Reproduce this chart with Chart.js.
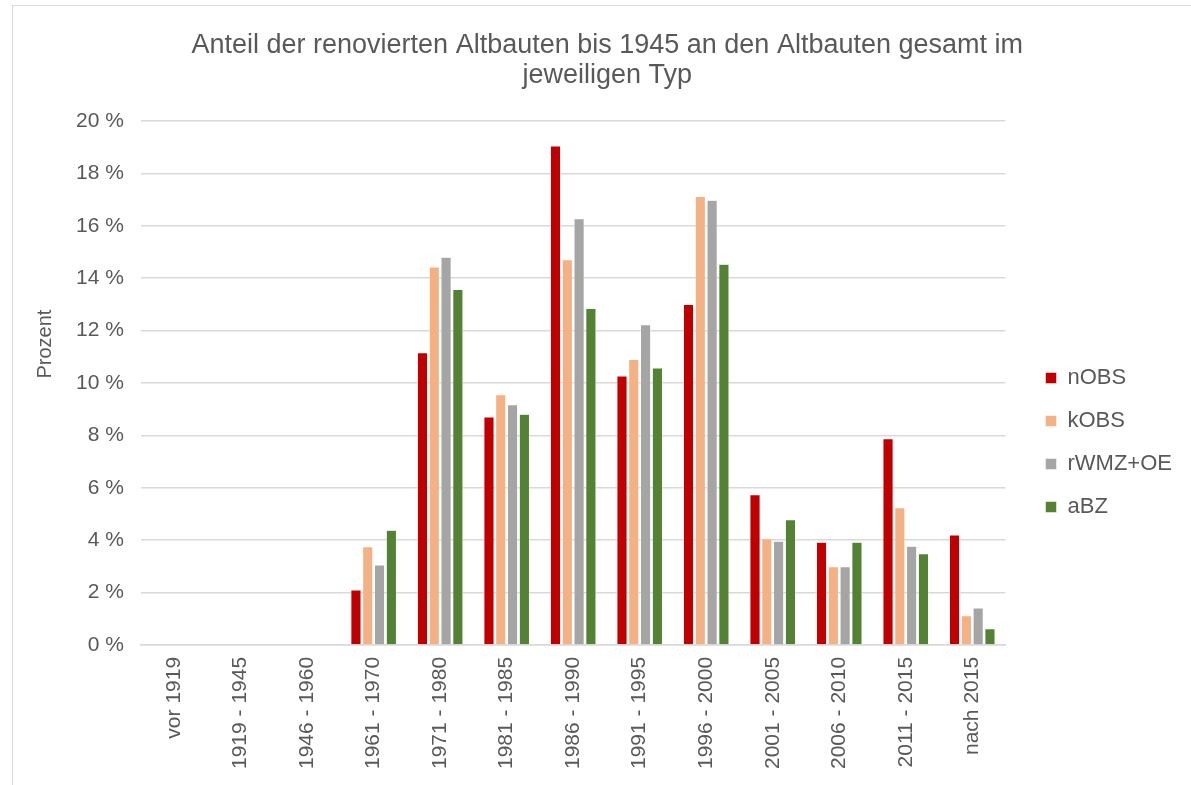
<!DOCTYPE html>
<html>
<head>
<meta charset="utf-8">
<script src="https://cdn.jsdelivr.net/npm/chart.js@4"></script>
<style>
  html, body { margin: 0; padding: 0; background: #fff; }
  .rahmen { position: absolute; left: 12px; top: 5px; width: 1200px; height: 800px; border: 1px solid #d9d9d9; box-sizing: border-box; }
  .chartBox { position: absolute; left: 0; top: 0; width: 1191px; height: 785px; }
</style>
</head>
<body>
<div class="rahmen"></div>
<div class="chartBox"><canvas class="chartAltbauten"></canvas></div>
<script>
const kategorien = ["vor 1919", "1919 - 1945", "1946 - 1960", "1961 - 1970", "1971 - 1980", "1981 - 1985", "1986 - 1990", "1991 - 1995", "1996 - 2000", "2001 - 2005", "2006 - 2010", "2011 - 2015", "nach 2015"];
const nOBS = [0, 0, 0, 2.1, 11.15, 8.7, 19.05, 10.27, 13.0, 5.73, 3.92, 7.87, 4.2];
const kOBS = [0, 0, 0, 3.75, 14.43, 9.55, 14.7, 10.9, 17.12, 4.05, 2.98, 5.24, 1.11];
const rWMZ_OE = [0, 0, 0, 3.05, 14.8, 9.17, 16.27, 12.22, 16.98, 3.96, 2.98, 3.77, 1.41];
const aBZ = [0, 0, 0, 4.38, 13.57, 8.81, 12.84, 10.57, 14.53, 4.78, 3.92, 3.48, 0.62];

const grau = "#595959";
const schrift = "'Liberation Sans', Arial, sans-serif";

const chartAltbauten = document.querySelector(".chartAltbauten");
var contextAltbauten = chartAltbauten.getContext("2d");

// Legende etwas vom Diagramm abruecken (wie im Original)
const legendeVerschieben = {
    id: "legendeVerschieben",
    afterLayout(chart) {
        chart.legend.left += 19;
        chart.legend.right += 19;
    }
};

function datensatz(label, farbe, werte) {
    return {
        label: label,
        backgroundColor: farbe,
        borderColor: "#ffffff",
        borderWidth: 0.5,
        data: werte,
        barPercentage: 0.86,
        categoryPercentage: 0.71
    };
}

var myChartAltbauten = new Chart(contextAltbauten, {
    type: "bar",
    data: {
        labels: kategorien,
        datasets: [
            datensatz("nOBS", "#c00000", nOBS),
            datensatz("kOBS", "#f4b183", kOBS),
            datensatz("rWMZ+OE", "#a5a5a5", rWMZ_OE),
            datensatz("aBZ", "#548235", aBZ)
        ]
    },
    plugins: [legendeVerschieben],
    options: {
        responsive: true,
        maintainAspectRatio: false,
        animation: false,
        layout: { padding: { left: 29, right: 28, top: 30, bottom: 12 } },
        plugins: {
            title: {
                display: true,
                text: ["   Anteil der renovierten Altbauten bis 1945 an den Altbauten gesamt im", "   jeweiligen Typ"],
                color: grau,
                font: { family: schrift, size: 27, weight: "normal", lineHeight: 1.13 },
                padding: { top: 0, bottom: 30 }
            },
            legend: {
                position: "right",
                title: {
                    display: true,
                    text: " ",
                    font: { size: 10 },
                    padding: { top: 70, bottom: 0 }
                },
                labels: {
                    color: grau,
                    font: { family: schrift, size: 22 },
                    boxWidth: 11,
                    boxHeight: 11,
                    padding: 21
                }
            },
            tooltip: { enabled: false }
        },
        scales: {
            x: {
                grid: { display: false },
                border: { color: "#d9d9d9", width: 1.5 },
                ticks: {
                    color: grau,
                    font: { family: schrift, size: 21 },
                    minRotation: 90,
                    maxRotation: 90,
                    padding: 4
                }
            },
            y: {
                min: 0,
                max: 20,
                border: { display: false },
                grid: { color: "#d9d9d9", lineWidth: 1.5, drawTicks: false },
                ticks: {
                    stepSize: 2,
                    color: grau,
                    font: { family: schrift, size: 21 },
                    padding: 17,
                    callback: function (wert) { return wert + " %"; }
                },
                title: {
                    display: true,
                    text: "              Prozent",
                    color: grau,
                    font: { family: schrift, size: 20 },
                    padding: { top: 4, bottom: 2 }
                }
            }
        }
    }
});
</script>
</body>
</html>
